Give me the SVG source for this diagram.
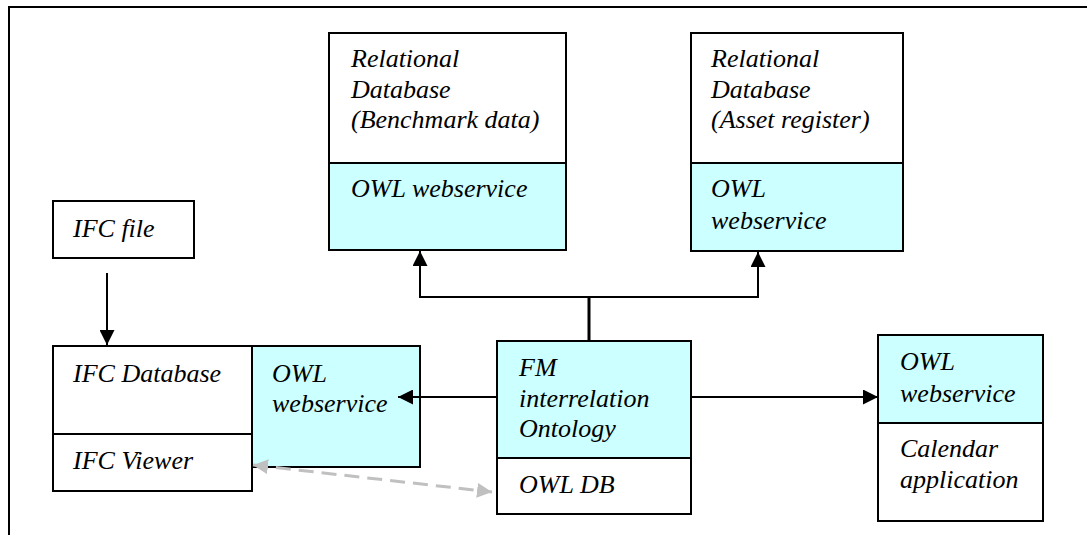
<svg xmlns="http://www.w3.org/2000/svg" width="1087" height="535" viewBox="0 0 1087 535">
<style>
text{font-family:"Liberation Serif","Times New Roman",Times,serif;font-style:italic;font-size:26px;fill:#000}
.w{fill:#fff;stroke:#000;stroke-width:2}
.c{fill:#ccffff;stroke:#000;stroke-width:2}
.ln{fill:none;stroke:#000;stroke-width:2}
</style>
<defs>
<marker id="ga" viewBox="0 0 15 15" refX="15" refY="7.5" markerWidth="15" markerHeight="15" markerUnits="userSpaceOnUse" orient="auto-start-reverse">
<path d="M0,0 L15,7.5 L0,15 z" fill="#c0c0c0"/>
</marker>
<marker id="bh" viewBox="0 0 15 15" refX="15" refY="7.5" markerWidth="15" markerHeight="15" markerUnits="userSpaceOnUse" orient="auto-start-reverse">
<path d="M0,0 L15,7.5 L0,15 z" fill="#000"/>
</marker>
</defs>
<g id="frame">
<path d="M9,535 L9,7 L1087,7" fill="none" stroke="#000" stroke-width="2"/>
</g>
<g id="benchmark">
<rect class="w" x="329" y="33" width="237" height="130"/>
<rect class="c" x="329" y="163" width="237" height="87"/>
<text x="351" y="67">Relational</text>
<text x="351" y="98">Database</text>
<text x="351" y="128">(Benchmark data)</text>
<text x="351" y="197">OWL webservice</text>
</g>
<g id="asset">
<rect class="w" x="691" y="33" width="212" height="130"/>
<rect class="c" x="691" y="163" width="212" height="88"/>
<text x="711" y="67">Relational</text>
<text x="711" y="98">Database</text>
<text x="711" y="128">(Asset register)</text>
<text x="711" y="197">OWL</text>
<text x="711" y="229">webservice</text>
</g>
<g id="ifcfile">
<rect class="w" x="53" y="201" width="141" height="57"/>
<text x="73" y="237">IFC file</text>
</g>
<g id="ifcdb">
<rect class="w" x="53" y="346" width="199" height="88"/>
<rect class="w" x="53" y="434" width="199" height="57"/>
<text x="73" y="382">IFC Database</text>
<text x="73" y="469">IFC Viewer</text>
</g>
<g id="owlleft">
<rect class="c" x="252" y="346" width="168" height="121"/>
<text x="272" y="382">OWL</text>
<text x="272" y="412">webservice</text>
</g>
<g id="fm">
<rect class="c" x="497" y="341" width="194" height="117"/>
<rect class="w" x="497" y="458" width="194" height="56"/>
<text x="519" y="376">FM</text>
<text x="519" y="407">interrelation</text>
<text x="519" y="437">Ontology</text>
<text x="519" y="493">OWL DB</text>
</g>
<g id="calendar">
<rect class="c" x="878" y="335" width="165" height="88"/>
<rect class="w" x="878" y="423" width="165" height="98"/>
<text x="900" y="370">OWL</text>
<text x="900" y="402">webservice</text>
<text x="900" y="457">Calendar</text>
<text x="900" y="488">application</text>
</g>
<g id="connectors">
<path d="M589,340 L589,297" fill="none" stroke="#000" stroke-width="3"/>
<path d="M420,251 L420,297 L758,297 L758,252" class="ln" marker-start="url(#bh)" marker-end="url(#bh)"/>
<path d="M107,273 L107,345" class="ln" marker-end="url(#bh)"/>
<path d="M496,397 L398,397" class="ln" marker-end="url(#bh)"/>
<path d="M692,397 L878,397" class="ln" marker-end="url(#bh)"/>
<path d="M253,465 L492,492" fill="none" stroke="#c0c0c0" stroke-width="3" stroke-dasharray="15,8" marker-start="url(#ga)" marker-end="url(#ga)"/>
</g>
</svg>
